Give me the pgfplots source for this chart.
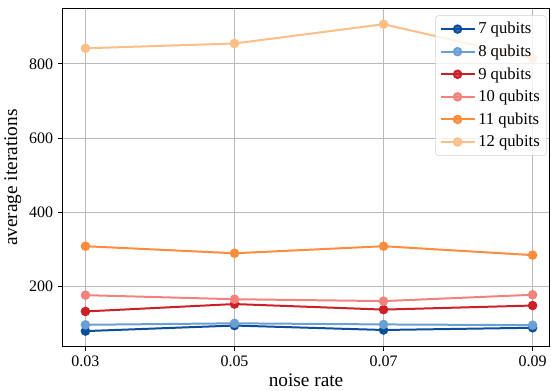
\documentclass[border=0pt]{standalone}
\usepackage{fontspec}
\setmainfont{Liberation Serif}
\usepackage{pgfplots}
\pgfplotsset{compat=1.18}
\definecolor{c7}{HTML}{0B4F9C}
\definecolor{c8}{HTML}{6B9ED1}
\definecolor{c9}{HTML}{CB2027}
\definecolor{c10}{HTML}{F4827C}
\definecolor{c11}{HTML}{FD8D3C}
\definecolor{c12}{HTML}{FDBF85}
\begin{document}
\begin{tikzpicture}
\begin{axis}[
  scale only axis,
  width=366pt, height=254pt,
  xmin=0.02692, xmax=0.09228,
  ymin=37, ymax=949,
  scaled x ticks=false,
  xtick={0.03,0.05,0.07,0.09},
  xticklabels={0.03,0.05,0.07,0.09},
  ytick={200,400,600,800},
  /pgf/number format/assume math mode=true,
  tick label style={font=\fontsize{12}{14}\selectfont},
  label style={font=\fontsize{14.5}{16}\selectfont},
  xlabel={noise rate},
  ylabel={average iterations},
  xlabel style={yshift=2pt},
  ylabel style={yshift=-1pt},
  grid=major,
  grid style={gray!55, line width=0.6pt},
  axis line style={black, line width=0.8pt},
  tick style={black, line width=0.6pt},
  tick align=outside,
  major tick length=3.5pt,
  xtick pos=bottom, ytick pos=left,
  legend style={at={(rel axis cs:0.994,0.98)}, anchor=north east,
    draw=gray!35, rounded corners=2pt, fill=white, fill opacity=0.8, text opacity=1,
    font=\fontsize{12.5}{14}\selectfont, row sep=2.8pt, inner sep=3pt},
  legend cell align=left,
  legend image code/.code={
    \draw[mark repeat=2, mark phase=2] plot coordinates {(0cm,0cm) (0.45cm,0cm) (0.9cm,0cm)};
  },
  every axis plot/.append style={line width=1.5pt, mark=*, mark size=2.8pt},
]
\addplot[c7, mark options={fill=c7, draw=c7}] coordinates {(0.03,79) (0.05,94) (0.07,82) (0.09,88)};
\addlegendentry{7 qubits}
\addplot[c8, mark options={fill=c8, draw=c8}] coordinates {(0.03,96) (0.05,100) (0.07,97) (0.09,95)};
\addlegendentry{8 qubits}
\addplot[c9, mark options={fill=c9, draw=c9}] coordinates {(0.03,132) (0.05,152) (0.07,137) (0.09,148)};
\addlegendentry{9 qubits}
\addplot[c10, mark options={fill=c10, draw=c10}] coordinates {(0.03,176) (0.05,165) (0.07,160) (0.09,177)};
\addlegendentry{10 qubits}
\addplot[c11, mark options={fill=c11, draw=c11}] coordinates {(0.03,308) (0.05,289) (0.07,308) (0.09,284)};
\addlegendentry{11 qubits}
\addplot[c12, mark options={fill=c12, draw=c12}] coordinates {(0.03,842) (0.05,855) (0.07,907) (0.09,815)};
\addlegendentry{12 qubits}
\end{axis}
\path ([yshift=6.5pt]current axis.north);
\end{tikzpicture}
\end{document}
